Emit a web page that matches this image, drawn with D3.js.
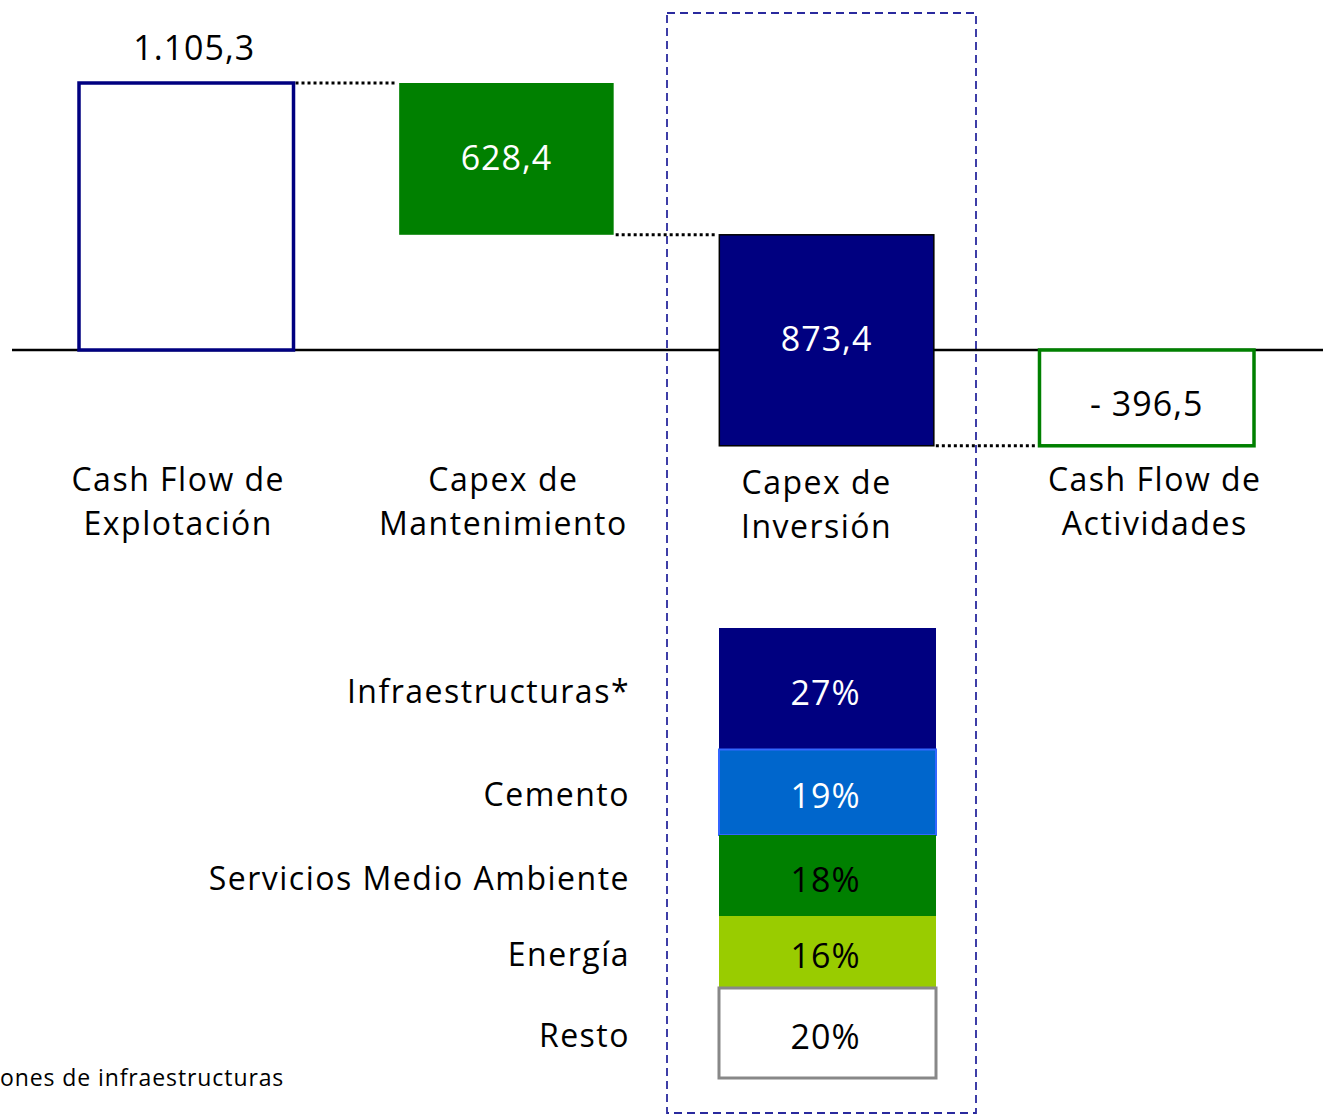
<!DOCTYPE html>
<html>
<head>
<meta charset="utf-8">
<script src="https://cdn.jsdelivr.net/npm/d3@7"></script>
<style>
  body { margin: 0; background: #fff; }
  svg text { font-family: "Open Sans", "Noto Sans", sans-serif; }
</style>
</head>
<body>
<div id="chart"></div>
<script>
// waterfall data
const categories = [["Cash Flow de", "Explotación"], ["Capex de", "Mantenimiento"], ["Capex de", "Inversión"], ["Cash Flow de", "Actividades"]];
const values = [1105.3, -628.4, -873.4, -396.5];
const valueLabels = ["1.105,3", "628,4", "873,4", "- 396,5"];

// breakdown of capex de inversión
const segments = ["Infraestructuras*", "Cemento", "Servicios Medio Ambiente", "Energía", "Resto"];
const shares = [27, 19, 18, 16, 20];
const footnote = "ones de infraestructuras";

const width = 1323, height = 1115;

const svg = d3.select("#chart").append("svg")
    .attr("width", width)
    .attr("height", height);

const x = d3.scaleBand()
    .domain(d3.range(categories.length))
    .range([79, 1254])
    .paddingInner(0.33)
    .paddingOuter(0);

const y = d3.scaleLinear()
    .domain([0, 1105.3])
    .range([350, 83]);

// build start/end for each step, last one is a total drawn from zero
let run = 0;
const steps = values.map(function(v, i) {
    let s, e;
    if (i === 0) { s = 0; e = v; run = v; }
    else if (i === values.length - 1) { s = 0; e = v; }
    else { s = run; e = run + v; run = e; }
    return {i: i, start: s, end: e, label: valueLabels[i]};
});

const styles = [
    {fill: "#fff", stroke: "#000080", sw: 3.5, text: "#000"},
    {fill: "#008000", stroke: "none", sw: 0, text: "#fff"},
    {fill: "#000080", stroke: "#000", sw: 1.5, text: "#fff"},
    {fill: "#fff", stroke: "#008000", sw: 3.5, text: "#000"}
];

// dashed frame around the capex de inversión column
svg.append("rect")
    .attr("x", 667).attr("y", 13)
    .attr("width", 309).attr("height", 1100)
    .attr("fill", "none")
    .attr("stroke", "#2a2a9e")
    .attr("stroke-width", 1.8)
    .attr("stroke-dasharray", "8,5");

// zero line
svg.append("line")
    .attr("x1", 12).attr("x2", width)
    .attr("y1", y(0)).attr("y2", y(0))
    .attr("stroke", "#000")
    .attr("stroke-width", 2.5);

// dotted connectors between steps
for (let i = 0; i < steps.length - 1; i++) {
    const level = i < steps.length - 2 ? steps[i].end : steps[i + 1].end;
    svg.append("line")
        .attr("x1", x(i) + x.bandwidth() + 2)
        .attr("x2", x(i + 1) - 3)
        .attr("y1", y(level)).attr("y2", y(level))
        .attr("stroke", "#000")
        .attr("stroke-width", 3)
        .attr("stroke-dasharray", "3,3");
}

svg.selectAll("rect.step")
    .data(steps)
  .enter().append("rect")
    .attr("class", "step")
    .attr("x", d => x(d.i))
    .attr("width", x.bandwidth())
    .attr("y", d => y(Math.max(d.start, d.end)))
    .attr("height", d => Math.abs(y(d.start) - y(d.end)))
    .attr("fill", d => styles[d.i].fill)
    .attr("stroke", d => styles[d.i].stroke)
    .attr("stroke-width", d => styles[d.i].sw);

svg.selectAll("text.value")
    .data(steps)
  .enter().append("text")
    .attr("class", "value")
    .attr("x", d => x(d.i) + x.bandwidth() / 2 + (d.i === 0 ? 8 : 0))
    .attr("y", d => d.i === 0 ? y(d.end) - 23 : (y(d.start) + y(d.end)) / 2 + (d.i === 3 ? 18 : 11))
    .attr("text-anchor", "middle")
    .attr("font-size", 34)
    .attr("letter-spacing", "1px")
    .attr("fill", d => styles[d.i].text)
    .text(d => d.label);

// category labels, two lines each
const catLabels = svg.selectAll("text.cat")
    .data(categories)
  .enter().append("text")
    .attr("class", "cat")
    .attr("text-anchor", "middle")
    .attr("font-size", 32)
    .attr("letter-spacing", "1.5px")
    .attr("fill", "#000")
    .attr("transform", (d, i) => "translate(" + (x(i) + x.bandwidth() / 2 + [-8, -3, -10, 8][i]) + "," + (i === 2 ? 494 : 491) + ")");

catLabels.selectAll("tspan")
    .data(d => d)
  .enter().append("tspan")
    .attr("x", 0)
    .attr("y", (d, j) => j * 44)
    .text(d => d);

// stacked breakdown bar
const yp = d3.scaleLinear().domain([0, 100]).range([628, 1078]);
const stack = [];
let acc = 0;
shares.forEach(function(s, i) {
    stack.push({name: segments[i], value: s, y0: acc, y1: acc + s});
    acc += s;
});

const segStyles = [
    {fill: "#000080", stroke: "none", text: "#fff"},
    {fill: "#0066cc", stroke: "#3366ff", text: "#fff"},
    {fill: "#008000", stroke: "none", text: "#000"},
    {fill: "#99cc00", stroke: "none", text: "#000"},
    {fill: "#fff", stroke: "#888", text: "#000"}
];

const bx = 719, bw = 217;

svg.selectAll("rect.seg")
    .data(stack)
  .enter().append("rect")
    .attr("class", "seg")
    .attr("x", bx)
    .attr("width", bw)
    .attr("y", d => yp(d.y0))
    .attr("height", d => yp(d.y1) - yp(d.y0))
    .attr("fill", (d, i) => segStyles[i].fill)
    .attr("stroke", (d, i) => segStyles[i].stroke)
    .attr("stroke-width", (d, i) => i === 4 ? 3 : 2);

svg.selectAll("text.pct")
    .data(stack)
  .enter().append("text")
    .attr("class", "pct")
    .attr("x", bx + bw / 2 - 2)
    .attr("y", d => (yp(d.y0) + yp(d.y1)) / 2 + 16)
    .attr("text-anchor", "middle")
    .attr("font-size", 34)
    .attr("letter-spacing", "1px")
    .attr("fill", (d, i) => segStyles[i].text)
    .text(d => d.value + "%");

svg.selectAll("text.segname")
    .data(stack)
  .enter().append("text")
    .attr("class", "segname")
    .attr("x", 630)
    .attr("y", d => (yp(d.y0) + yp(d.y1)) / 2 + 14)
    .attr("text-anchor", "end")
    .attr("font-size", 32)
    .attr("letter-spacing", "1.5px")
    .attr("fill", "#000")
    .text(d => d.name);

svg.append("text")
    .attr("x", 0)
    .attr("y", 1086)
    .attr("font-size", 23)
    .attr("letter-spacing", "0.9px")
    .attr("fill", "#000")
    .text(footnote);
</script>
</body>
</html>
